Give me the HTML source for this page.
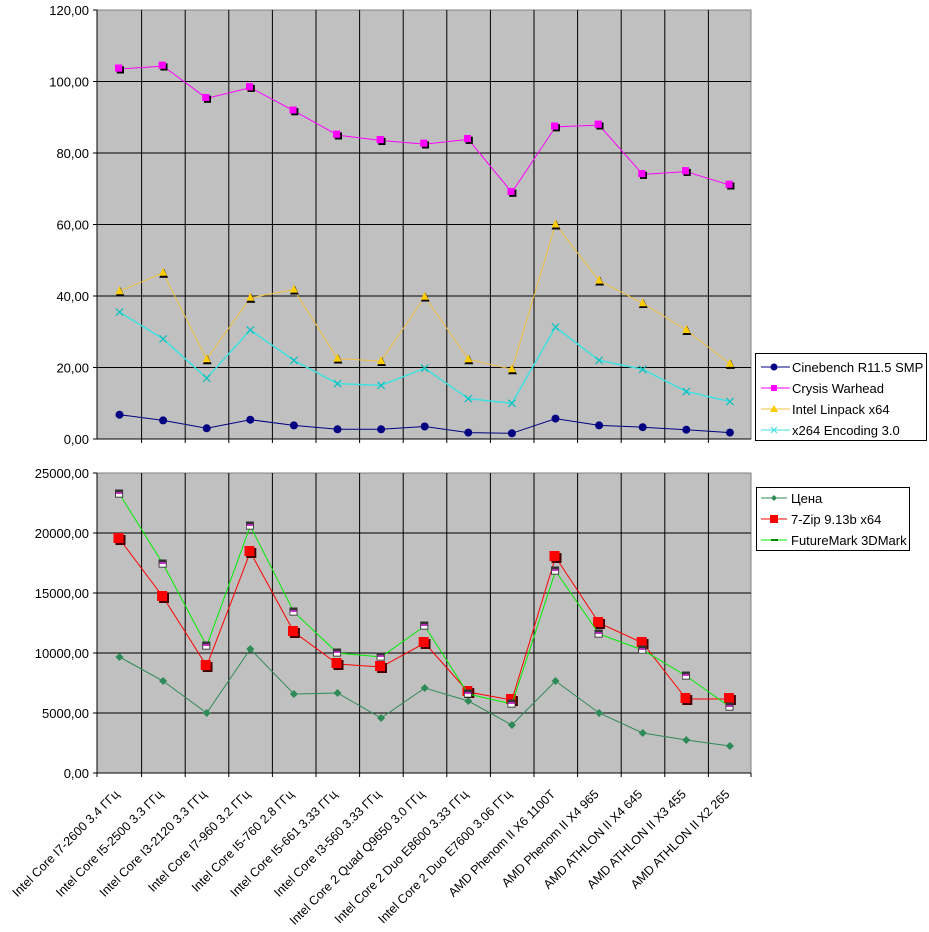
<!DOCTYPE html>
<html><head><meta charset="utf-8"><style>
html,body{margin:0;padding:0;background:#fff;}
svg{display:block;font-family:"Liberation Sans",Arial,sans-serif;}
</style></head><body>
<svg width="929" height="932" viewBox="0 0 929 932" xmlns="http://www.w3.org/2000/svg">
<defs>
<marker id="sq" viewBox="0 0 10 10" refX="5" refY="5" markerWidth="9" markerHeight="9" markerUnits="userSpaceOnUse"><rect x="2" y="2" width="8" height="8" fill="#000"/><rect x="0" y="0" width="8" height="8" fill="#ff00ff"/></marker>
<marker id="ci" viewBox="0 0 10 10" refX="5" refY="5" markerWidth="10" markerHeight="10" markerUnits="userSpaceOnUse"><circle cx="5" cy="5" r="4" fill="#000080"/></marker>
<marker id="tr" viewBox="0 0 10 10" refX="5" refY="5" markerWidth="10" markerHeight="10" markerUnits="userSpaceOnUse"><polygon points="6,1 10,10 1,10" fill="#000"/><polygon points="5,0 9,8 1,8" fill="#ffcc00"/></marker>
<marker id="xx" viewBox="0 0 10 10" refX="5" refY="5" markerWidth="9" markerHeight="9" markerUnits="userSpaceOnUse"><path d="M1,1L9,9M9,1L1,9" stroke="#00c0c0" stroke-width="1.3"/></marker>
<marker id="dm" viewBox="0 0 10 10" refX="5" refY="5" markerWidth="8" markerHeight="8" markerUnits="userSpaceOnUse"><polygon points="5,0 10,5 5,10 0,5" fill="#2e8b57"/></marker>
<marker id="rs" viewBox="0 0 12 12" refX="6" refY="6" markerWidth="12" markerHeight="12" markerUnits="userSpaceOnUse"><rect x="2" y="2" width="10" height="10" fill="#400"/><rect x="0" y="0" width="10" height="10" fill="#ff0000"/></marker>
<marker id="ps" viewBox="0 0 10 10" refX="5" refY="5" markerWidth="9" markerHeight="9" markerUnits="userSpaceOnUse"><rect x="0" y="0" width="9" height="9" fill="#333"/><rect x="1" y="3" width="7" height="2" fill="#cc33cc"/><rect x="1" y="5" width="7" height="3" fill="#fff"/></marker>
</defs>

<rect x="97" y="10" width="654" height="429" fill="#c0c0c0" stroke="#808080"/>
<g stroke="#000" stroke-width="1">
<line x1="97" y1="81.5" x2="751" y2="81.5"/><line x1="97" y1="153" x2="751" y2="153"/><line x1="97" y1="224.5" x2="751" y2="224.5"/><line x1="97" y1="296" x2="751" y2="296"/><line x1="97" y1="367.5" x2="751" y2="367.5"/>
<line x1="141.6" y1="10" x2="141.6" y2="443"/><line x1="185.2" y1="10" x2="185.2" y2="443"/><line x1="228.8" y1="10" x2="228.8" y2="443"/><line x1="272.4" y1="10" x2="272.4" y2="443"/><line x1="316" y1="10" x2="316" y2="443"/><line x1="359.6" y1="10" x2="359.6" y2="443"/><line x1="403.2" y1="10" x2="403.2" y2="443"/><line x1="446.8" y1="10" x2="446.8" y2="443"/><line x1="490.4" y1="10" x2="490.4" y2="443"/><line x1="534" y1="10" x2="534" y2="443"/><line x1="577.6" y1="10" x2="577.6" y2="443"/><line x1="621.2" y1="10" x2="621.2" y2="443"/><line x1="664.8" y1="10" x2="664.8" y2="443"/><line x1="708.4" y1="10" x2="708.4" y2="443"/>
<line x1="97" y1="439" x2="751" y2="439"/><line x1="97" y1="10" x2="97" y2="439"/>
<line x1="93" y1="10" x2="97" y2="10"/><line x1="93" y1="81.5" x2="97" y2="81.5"/><line x1="93" y1="153" x2="97" y2="153"/><line x1="93" y1="224.5" x2="97" y2="224.5"/><line x1="93" y1="296" x2="97" y2="296"/><line x1="93" y1="367.5" x2="97" y2="367.5"/><line x1="93" y1="439" x2="97" y2="439"/>
</g>
<g font-size="13" text-anchor="end" fill="#000">
<text x="89" y="15">120,00</text><text x="89" y="86.5">100,00</text><text x="89" y="158">80,00</text><text x="89" y="229.5">60,00</text><text x="89" y="301">40,00</text><text x="89" y="372.5">20,00</text><text x="89" y="444">0,00</text>
</g>
<polyline fill="none" stroke="#ff00ff" stroke-width="1" marker-start="url(#sq)" marker-mid="url(#sq)" marker-end="url(#sq)" points="119.5,69 163.1,66.1 206.7,98.3 250.3,87.6 293.9,110.8 337.5,135.1 381.1,140.5 424.7,144.1 468.3,139.4 511.9,192.3 555.5,126.9 599.1,125.1 642.7,174.4 686.3,171.6 729.9,185.2"/>
<polyline fill="none" stroke="#f0c040" stroke-width="1" marker-start="url(#tr)" marker-mid="url(#tr)" marker-end="url(#tr)" points="119.5,291.3 163.1,272.8 206.7,359.3 250.3,297.8 293.9,289.6 337.5,358.6 381.1,361.1 424.7,296.7 468.3,359.3 511.9,369.3 555.5,224.5 599.1,280.6 642.7,303.2 686.3,330 729.9,363.9"/>
<polyline fill="none" stroke="#40e0e0" stroke-width="1.5" marker-start="url(#xx)" marker-mid="url(#xx)" marker-end="url(#xx)" points="119.5,312.1 163.1,338.9 206.7,378.2 250.3,330 293.9,360.4 337.5,383.6 381.1,385.4 424.7,368.2 468.3,398.6 511.9,403.3 555.5,327.1 599.1,360.4 642.7,369.3 686.3,391.5 729.9,401.5"/>
<polyline fill="none" stroke="#000080" stroke-width="1" marker-start="url(#ci)" marker-mid="url(#ci)" marker-end="url(#ci)" points="119.5,414.7 163.1,420.4 206.7,428.3 250.3,419.7 293.9,425.4 337.5,429.3 381.1,429.3 424.7,426.5 468.3,432.6 511.9,433.3 555.5,418.6 599.1,425.4 642.7,427.2 686.3,429.7 729.9,432.6"/>

<rect x="755.5" y="353.5" width="171" height="87" fill="#fff" stroke="#000"/>
<g font-size="13" fill="#000">
<line x1="761" y1="367" x2="790" y2="367" stroke="#000080"/><circle cx="774" cy="367" r="3.5" fill="#000080"/><text x="792" y="372">Cinebench R11.5 SMP</text>
<line x1="761" y1="388" x2="790" y2="388" stroke="#ff00ff"/><rect x="771" y="385" width="6" height="6" fill="#ff00ff"/><text x="792" y="393">Crysis Warhead</text>
<line x1="761" y1="409" x2="790" y2="409" stroke="#f0c040"/><polygon points="774,405 778,412 770,412" fill="#ffcc00"/><text x="792" y="414">Intel Linpack x64</text>
<line x1="761" y1="430" x2="790" y2="430" stroke="#40e0e0"/><path d="M771,427L777,433M777,427L771,433" stroke="#40e0e0"/><text x="792" y="435">x264 Encoding 3.0</text>
</g>

<rect x="97" y="473" width="654" height="300" fill="#c0c0c0" stroke="#808080"/>
<g stroke="#000" stroke-width="1">
<line x1="97" y1="533" x2="751" y2="533"/><line x1="97" y1="593" x2="751" y2="593"/><line x1="97" y1="653" x2="751" y2="653"/><line x1="97" y1="713" x2="751" y2="713"/>
<line x1="141.6" y1="473" x2="141.6" y2="777"/><line x1="185.2" y1="473" x2="185.2" y2="777"/><line x1="228.8" y1="473" x2="228.8" y2="777"/><line x1="272.4" y1="473" x2="272.4" y2="777"/><line x1="316" y1="473" x2="316" y2="777"/><line x1="359.6" y1="473" x2="359.6" y2="777"/><line x1="403.2" y1="473" x2="403.2" y2="777"/><line x1="446.8" y1="473" x2="446.8" y2="777"/><line x1="490.4" y1="473" x2="490.4" y2="777"/><line x1="534" y1="473" x2="534" y2="777"/><line x1="577.6" y1="473" x2="577.6" y2="777"/><line x1="621.2" y1="473" x2="621.2" y2="777"/><line x1="664.8" y1="473" x2="664.8" y2="777"/><line x1="708.4" y1="473" x2="708.4" y2="777"/><line x1="751" y1="773" x2="751" y2="777"/>
<line x1="97" y1="773" x2="751" y2="773"/><line x1="97" y1="473" x2="97" y2="777"/>
<line x1="93" y1="473" x2="97" y2="473"/><line x1="93" y1="533" x2="97" y2="533"/><line x1="93" y1="593" x2="97" y2="593"/><line x1="93" y1="653" x2="97" y2="653"/><line x1="93" y1="713" x2="97" y2="713"/><line x1="93" y1="773" x2="97" y2="773"/>
</g>
<g font-size="13" text-anchor="end" fill="#000">
<text x="89" y="478">25000,00</text><text x="89" y="538">20000,00</text><text x="89" y="598">15000,00</text><text x="89" y="658">10000,00</text><text x="89" y="718">5000,00</text><text x="89" y="778">0,00</text>
</g>
<polyline fill="none" stroke="#2e8b57" stroke-width="1" marker-start="url(#dm)" marker-mid="url(#dm)" marker-end="url(#dm)" points="119.5,657 163.1,681 206.7,713 250.3,649 293.9,694 337.5,693 381.1,718 424.7,688 468.3,701 511.9,725 555.5,681 599.1,713 642.7,733 686.3,740 729.9,746"/>
<polyline fill="none" stroke="#ff0000" stroke-width="1" marker-start="url(#rs)" marker-mid="url(#rs)" marker-end="url(#rs)" points="119.5,539 163.1,597 206.7,666 250.3,552 293.9,632 337.5,664 381.1,667 424.7,643 468.3,692 511.9,700 555.5,557 599.1,623 642.7,643 686.3,699 729.9,699"/>
<polyline fill="none" stroke="#00ee00" stroke-width="1" marker-start="url(#ps)" marker-mid="url(#ps)" marker-end="url(#ps)" points="119.5,494 163.1,564 206.7,646 250.3,526 293.9,612 337.5,653 381.1,657 424.7,626 468.3,694 511.9,704 555.5,571 599.1,634 642.7,650 686.3,676 729.9,707"/>

<rect x="756.5" y="487.5" width="153" height="63" fill="#fff" stroke="#000"/>
<g font-size="13" fill="#000">
<line x1="761" y1="498" x2="787" y2="498" stroke="#2e8b57"/><polygon points="774,495 777,498 774,501 771,498" fill="#2e8b57"/><text x="791" y="503">Цена</text>
<line x1="761" y1="519" x2="787" y2="519" stroke="#ff0000"/><rect x="770" y="515" width="8" height="8" fill="#ff0000"/><text x="791" y="524">7-Zip 9.13b x64</text>
<line x1="761" y1="540" x2="787" y2="540" stroke="#00ee00"/><line x1="771" y1="540" x2="778" y2="540" stroke="#008800" stroke-width="2"/><text x="791" y="545">FutureMark 3DMark</text>
</g>

<g font-size="12.5" text-anchor="end" fill="#000">
<text transform="translate(120,795) rotate(-45)">Intel Core I7-2600 3.4 ГГц</text>
<text transform="translate(163.6,795) rotate(-45)">Intel Core I5-2500 3.3 ГГц</text>
<text transform="translate(207.2,795) rotate(-45)">Intel Core I3-2120 3.3 ГГц</text>
<text transform="translate(250.8,795) rotate(-45)">Intel Core I7-960 3.2 ГГц</text>
<text transform="translate(294.4,795) rotate(-45)">Intel Core I5-760 2.8 ГГц</text>
<text transform="translate(338,795) rotate(-45)">Intel Core I5-661 3.33 ГГц</text>
<text transform="translate(381.6,795) rotate(-45)">Intel Core I3-560 3.33 ГГц</text>
<text transform="translate(425.2,795) rotate(-45)">Intel Core 2 Quad Q9650 3.0 ГГц</text>
<text transform="translate(468.8,795) rotate(-45)">Intel Core 2 Duo E8600 3.33 ГГц</text>
<text transform="translate(512.4,795) rotate(-45)">Intel Core 2 Duo E7600 3.06 ГГц</text>
<text transform="translate(556,795) rotate(-45)">AMD Phenom II X6 1100T</text>
<text transform="translate(599.6,795) rotate(-45)">AMD Phenom II X4 965</text>
<text transform="translate(643.2,795) rotate(-45)">AMD ATHLON II X4 645</text>
<text transform="translate(686.8,795) rotate(-45)">AMD ATHLON II X3 455</text>
<text transform="translate(730.4,795) rotate(-45)">AMD ATHLON II X2 265</text>
</g>
</svg>
</body></html>
